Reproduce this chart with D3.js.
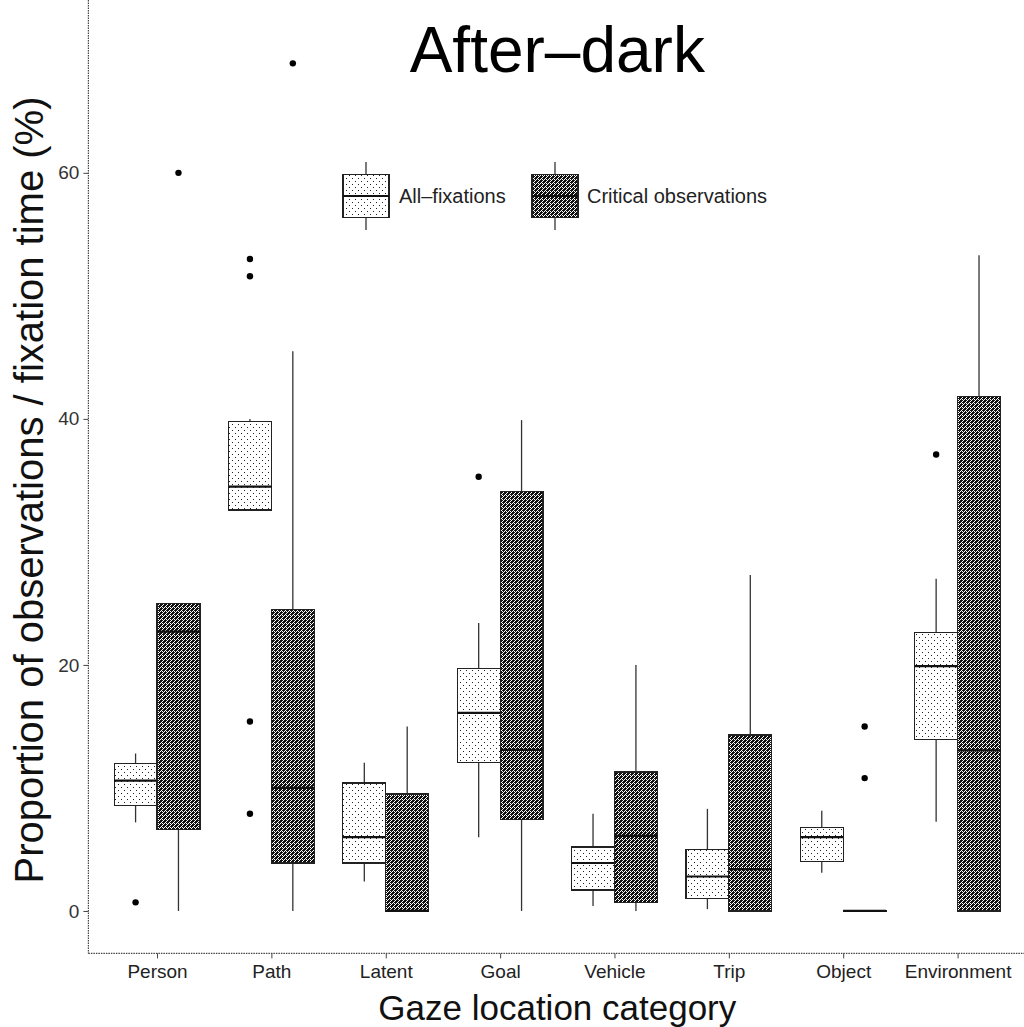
<!DOCTYPE html>
<html>
<head>
<meta charset="utf-8">
<script src="https://cdn.jsdelivr.net/npm/d3@7"></script>
<style>
  html, body { margin: 0; padding: 0; background: #fff; }
  svg { display: block; }
  text { font-family: "Liberation Sans", Arial, Helvetica, sans-serif; }
</style>
</head>
<body>
<svg id="chart" width="1024" height="1027"></svg>
<script>
// Gaze location categories on the x axis
const categories = ["Person", "Path", "Latent", "Goal", "Vehicle", "Trip", "Object", "Environment"];
const seriesNames = ["All\u2013fixations", "Critical observations"];
const yTicks = [0, 20, 40, 60];

// Box-plot summaries (%) for all fixations
const allLow  = [7.2, 32.6, 2.4, 6.0, 0.4, 0.15, 3.1, 7.25];
const allQ1   = [8.6, 32.6, 3.9, 12.1, 1.7, 1.0, 4.0, 13.96];
const allMed  = [10.6, 34.5, 6.0, 16.1, 3.9, 2.8, 6.0, 19.9];
const allQ3   = [12.0, 39.8, 10.4, 19.7, 5.2, 5.0, 6.8, 22.65];
const allHigh = [12.8, 40.0, 12.05, 23.4, 7.9, 8.3, 8.15, 27.0];
const allOut  = [[0.7], [53.0, 51.6, 15.4, 7.9], [], [35.3], [], [], [], [37.1]];

// Box-plot summaries (%) for critical observations
const critLow  = [0, 0, 0, 0, 0, 0, 0, 0];
const critQ1   = [6.6, 3.9, 0, 7.45, 0.7, 0, 0, 0];
const critMed  = [22.7, 10.0, 0, 13.1, 6.1, 3.4, 0, 13.05];
const critQ3   = [25.0, 24.5, 9.5, 34.1, 11.3, 14.3, 0, 41.8];
const critHigh = [25.0, 45.5, 15.0, 39.9, 20.0, 27.3, 0, 53.3];
const critOut  = [[60.0], [68.9], [], [], [], [], [15.0, 10.8], []];

const svg = d3.select("#chart");
const defs = svg.append("defs");

// light stipple fill
const pLight = defs.append("pattern").attr("id", "fillLight")
  .attr("patternUnits", "userSpaceOnUse").attr("width", 6).attr("height", 6);
pLight.append("rect").attr("width", 6).attr("height", 6).attr("fill", "#fff");
[[1, 1], [4, 4]].forEach(([px, py]) =>
  pLight.append("rect").attr("x", px).attr("y", py).attr("width", 1).attr("height", 1).attr("fill", "#222"));

// dense dark stipple fill
const pDark = defs.append("pattern").attr("id", "fillDark")
  .attr("patternUnits", "userSpaceOnUse").attr("width", 4).attr("height", 4);
pDark.append("rect").attr("width", 4).attr("height", 4).attr("fill", "#fff");
[[0,0],[2,0],[1,1],[3,1],[0,2],[2,2],[1,3],[3,3],[1,0],[3,2],[0,1]].forEach(([px, py]) =>
  pDark.append("rect").attr("x", px).attr("y", py).attr("width", 1).attr("height", 1).attr("fill", "#111"));

const fills = ["url(#fillLight)", "url(#fillDark)"];

const panelLeft = 88.4, panelRight = 1026.2, panelBottom = 953.4, panelTop = 0;

const x = d3.scalePoint().domain(categories).range([panelLeft, panelRight]).padding(0.6);
const step = x.step();
const dodge = d3.scaleBand().domain(seriesNames).range([-0.375 * step, 0.375 * step]);
const y = d3.scaleLinear().domain([-3.45, 74.05]).range([panelBottom, panelTop]);

const series = [
  { name: seriesNames[0], low: allLow, q1: allQ1, med: allMed, q3: allQ3, high: allHigh, out: allOut },
  { name: seriesNames[1], low: critLow, q1: critQ1, med: critMed, q3: critQ3, high: critHigh, out: critOut }
];

const plot = svg.append("g");

series.forEach((s, si) => {
  const g = plot.append("g");
  categories.forEach((c, i) => {
    const x0 = x(c) + dodge(s.name);
    const w = dodge.bandwidth();
    const cx = x0 + w / 2;
    // whiskers
    g.append("line").attr("x1", cx).attr("x2", cx).attr("y1", y(s.q3[i])).attr("y2", y(s.high[i]))
      .attr("stroke", "#333").attr("stroke-width", 1.3);
    g.append("line").attr("x1", cx).attr("x2", cx).attr("y1", y(s.q1[i])).attr("y2", y(s.low[i]))
      .attr("stroke", "#333").attr("stroke-width", 1.3);
    // box
    g.append("rect").attr("x", x0).attr("width", w)
      .attr("y", y(s.q3[i])).attr("height", Math.max(y(s.q1[i]) - y(s.q3[i]), 0.5))
      .attr("fill", fills[si]).attr("stroke", "#222").attr("stroke-width", 1.2)
      .attr("shape-rendering", "crispEdges");
    // median
    g.append("line").attr("x1", x0).attr("x2", x0 + w).attr("y1", y(s.med[i])).attr("y2", y(s.med[i]))
      .attr("stroke", "#111").attr("stroke-width", 2.2);
    // outliers
    s.out[i].forEach(v => {
      g.append("circle").attr("cx", cx).attr("cy", y(v)).attr("r", 3.2).attr("fill", "#000");
    });
  });
});

// axes
const axisColor = "#444";
const yAxis = d3.axisLeft(y).tickValues(yTicks).tickSize(5).tickPadding(4);
const gy = svg.append("g").attr("transform", `translate(${panelLeft},0)`).call(yAxis);
gy.select(".domain").remove();
gy.selectAll(".tick line").attr("stroke", axisColor);
gy.selectAll(".tick text").attr("font-size", 19).attr("fill", "#333");
svg.append("line").attr("x1", panelLeft).attr("x2", panelLeft).attr("y1", panelTop).attr("y2", panelBottom)
  .attr("stroke", axisColor).attr("stroke-width", 1.2).attr("stroke-dasharray", "1.5,1");

const xAxis = d3.axisBottom(x).tickSize(5).tickPadding(6);
const gx = svg.append("g").attr("transform", `translate(0,${panelBottom})`).call(xAxis);
gx.select(".domain").remove();
gx.selectAll(".tick line").attr("stroke", axisColor);
gx.selectAll(".tick text").attr("font-size", 19).attr("fill", "#222");
svg.append("line").attr("x1", panelLeft).attr("x2", panelRight).attr("y1", panelBottom).attr("y2", panelBottom)
  .attr("stroke", axisColor).attr("stroke-width", 1.2).attr("stroke-dasharray", "1.5,1");

// title and axis titles
const midX = (panelLeft + panelRight) / 2;
svg.append("text").attr("x", midX).attr("y", 72).attr("text-anchor", "middle")
  .attr("font-size", 64).attr("fill", "#000").text("After\u2013dark");
svg.append("text").attr("x", midX).attr("y", 1020).attr("text-anchor", "middle")
  .attr("font-size", 35).attr("fill", "#111").text("Gaze location category");
svg.append("text").attr("transform", "translate(43,490) rotate(-90)").attr("text-anchor", "middle")
  .attr("font-size", 40).attr("fill", "#111").text("Proportion of observations / fixation time (%)");

// legend
const legendKeys = [
  { name: seriesNames[0], kx: 343, tx: 399 },
  { name: seriesNames[1], kx: 532, tx: 587 }
];
const keyW = 46, keyTop = 153.5, keyH = 85;
const lg = svg.append("g");
legendKeys.forEach((k, i) => {
  const cx = k.kx + keyW / 2;
  lg.append("line").attr("x1", cx).attr("x2", cx).attr("y1", keyTop + 0.1 * keyH).attr("y2", keyTop + 0.9 * keyH)
    .attr("stroke", "#333").attr("stroke-width", 1.3);
  lg.append("rect").attr("x", k.kx).attr("width", keyW).attr("y", keyTop + 0.25 * keyH).attr("height", 0.5 * keyH)
    .attr("fill", fills[i]).attr("stroke", "#222").attr("stroke-width", 1.2).attr("shape-rendering", "crispEdges");
  lg.append("line").attr("x1", k.kx).attr("x2", k.kx + keyW).attr("y1", keyTop + 0.5 * keyH).attr("y2", keyTop + 0.5 * keyH)
    .attr("stroke", "#111").attr("stroke-width", 2);
  lg.append("text").attr("x", k.tx).attr("y", keyTop + 0.5 * keyH).attr("dy", "0.35em")
    .attr("font-size", 20).attr("fill", "#222").text(k.name);
});
</script>
</body>
</html>
